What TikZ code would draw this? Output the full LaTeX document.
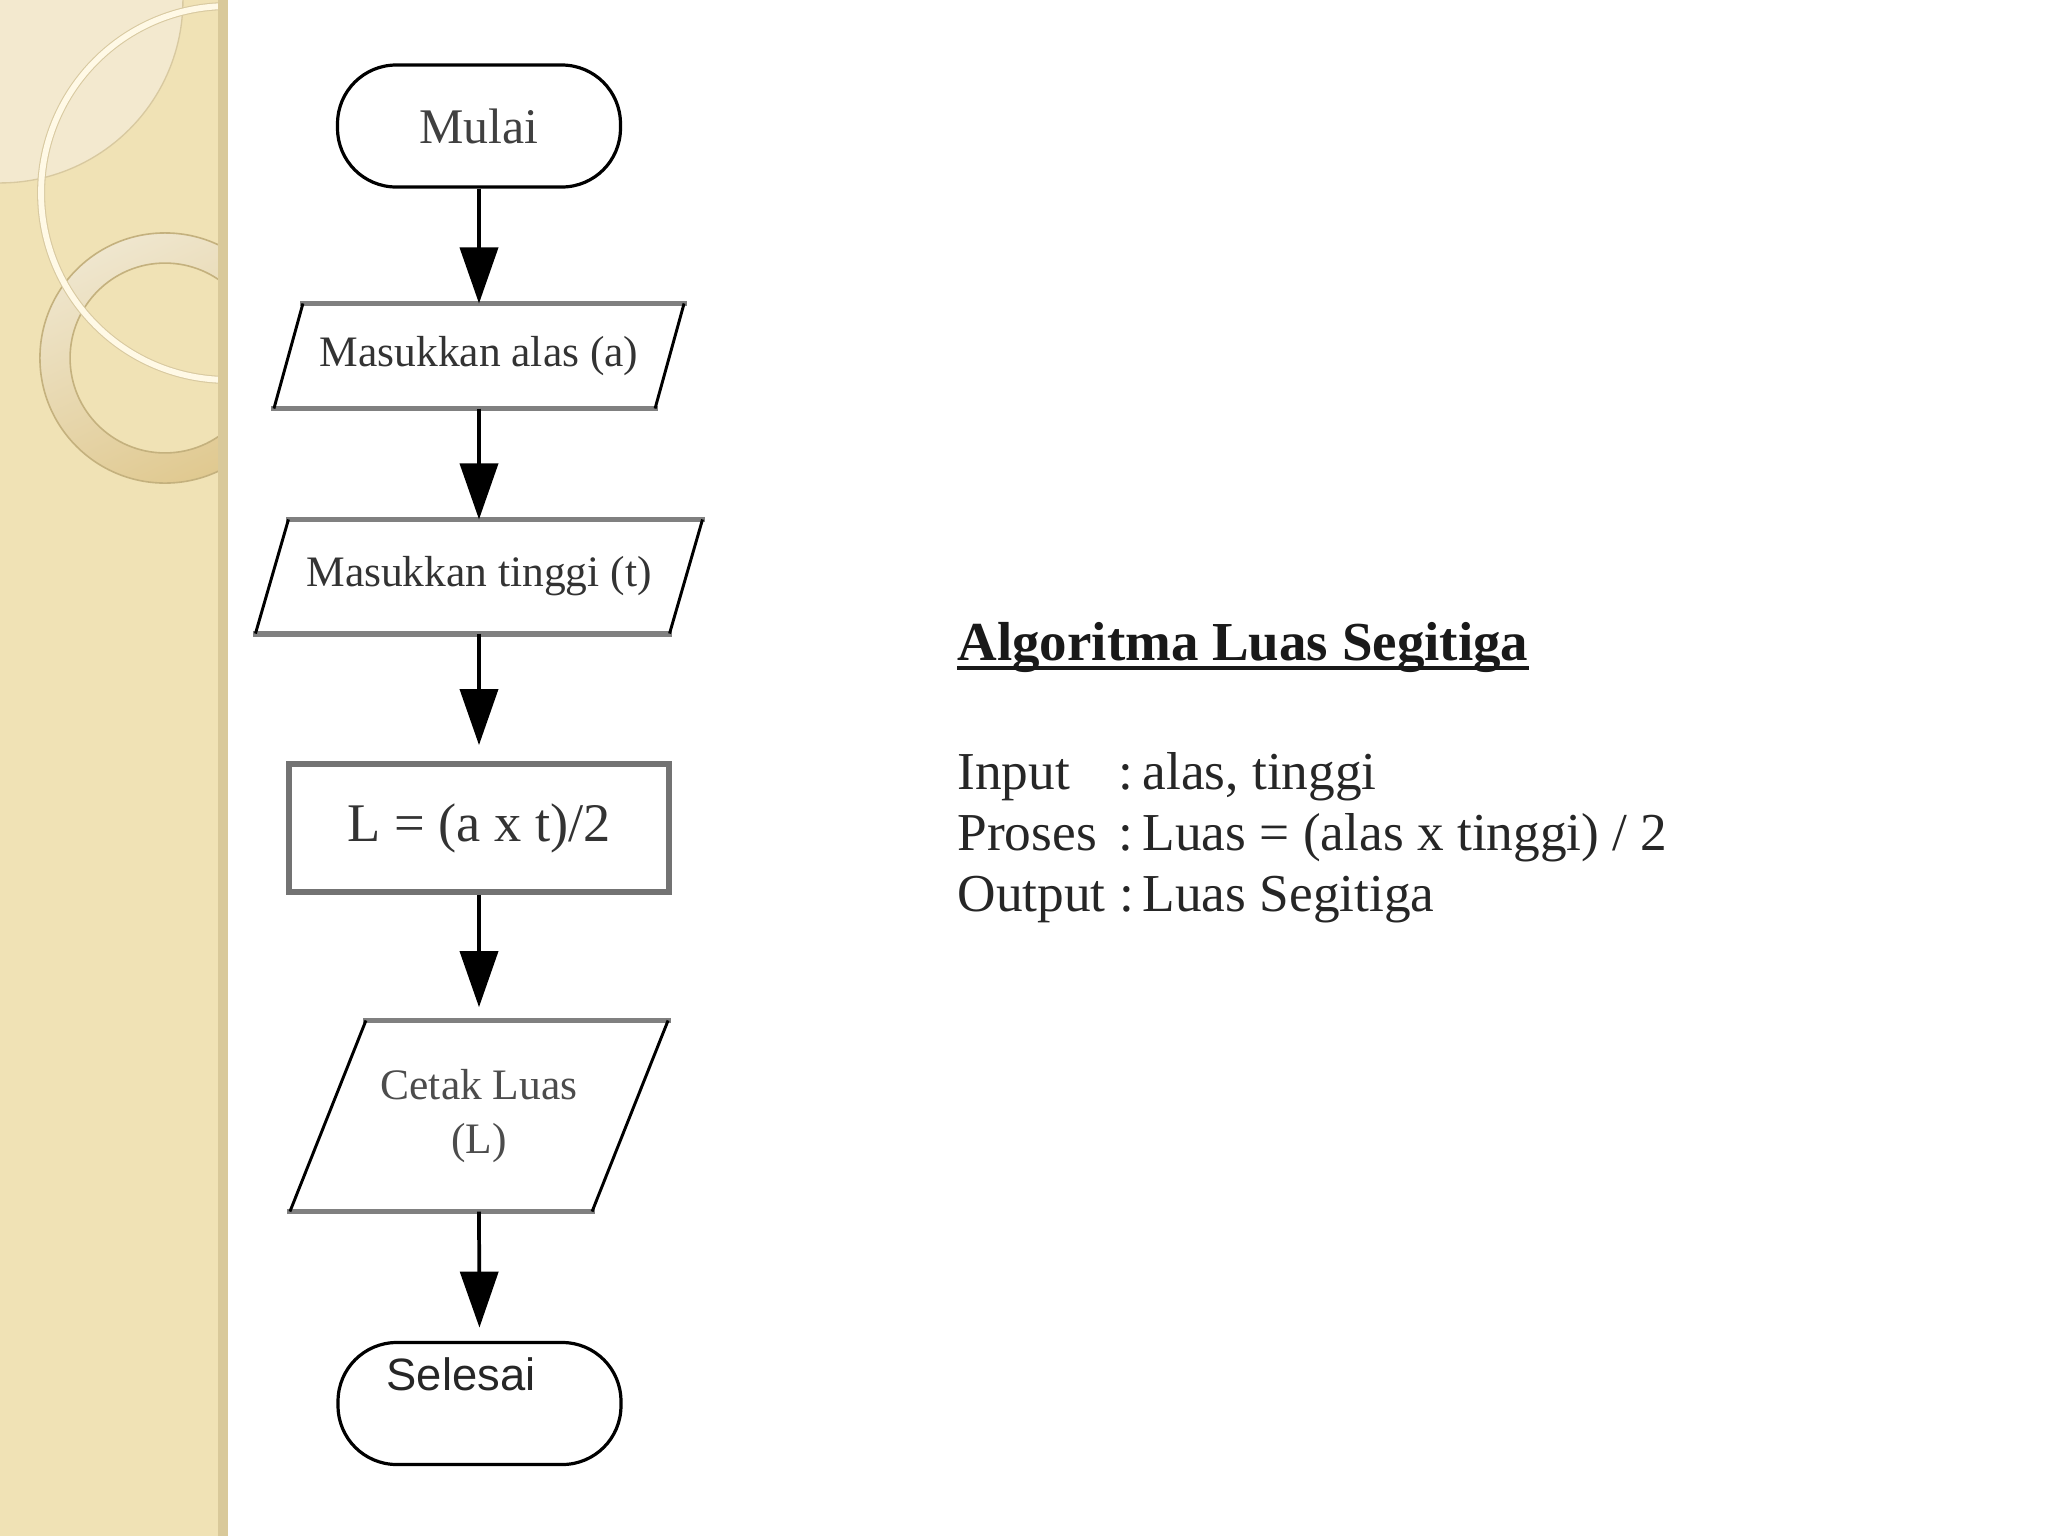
\documentclass[tikz,border=0pt]{standalone}
\usepackage{fontspec}
\setmainfont{Liberation Serif}
\newfontfamily\sansf{Liberation Sans}
\usetikzlibrary{arrows.meta,calc}
\definecolor{strip}{HTML}{F0E2B5}
\definecolor{stripLight}{HTML}{F3E9CF}
\definecolor{stripLine}{HTML}{D8C9A0}
\definecolor{ringA}{HTML}{EFE6CE}
\definecolor{ringB}{HTML}{E0C990}
\definecolor{ringLine}{HTML}{C4B17E}
\definecolor{band}{HTML}{D9C99A}
\definecolor{arcCol}{HTML}{FFF9E6}
\newcommand\drawpara[2]{%
  \draw[edgegray] ($(#1.north west)+(#2,0)$) -- (#1.north east);
  \draw[edgegray] (#1.south west) -- ($(#1.south east)+(-#2,0)$);
  \draw[edgeblack] (#1.south west) -- ($(#1.north west)+(#2,0)$);
  \draw[edgeblack] (#1.north east) -- ($(#1.south east)+(-#2,0)$);}
\begin{document}
\begin{tikzpicture}[x=0.375pt,y=-0.375pt,
  term/.style={draw=black, line width=1.2pt, rectangle, rounded corners=22pt,
    minimum width=106.1pt, minimum height=45.75pt, inner sep=0pt,
    font=\fontsize{18.7}{22}\selectfont, text=black!75},
  iobox/.style={inner sep=0pt, align=center, text=black!80},
  procbox/.style={draw=black!55, line width=2.2pt, minimum width=142.5pt,
    minimum height=48pt, inner sep=0pt, text=black!80,
    font=\fontsize{20.4}{24}\selectfont},
  edgegray/.style={draw=black!50, line width=2.2pt, line cap=rect},
  edgeblack/.style={draw=black, line width=1.1pt},
  flow/.style={draw=black, line width=1.4pt, -{Triangle[length=21pt,width=14.25pt]}},
]
\useasboundingbox (0,0) rectangle (2048,1536);
\fill[white] (0,0) rectangle (2048,1536);
% left decorative strip
\fill[strip] (0,0) rectangle (220,1536);
\begin{scope}
  \clip (0,0) rectangle (220,1536);
  \filldraw[fill=stripLight, draw=stripLine, line width=0.5pt] (0,0) circle[radius=68.6pt];
  \shade[even odd rule, top color=ringA, bottom color=ringB, shading angle=25]
    (165,358) circle[radius=46.9pt] (165,358) circle[radius=35.6pt];
  \draw[ringLine, line width=0.6pt] (165,358) circle[radius=46.9pt];
  \draw[ringLine, line width=0.6pt] (165,358) circle[radius=35.6pt];
  \draw[stripLine, line width=3.0pt] (228,193) circle[radius=70.1pt];
  \draw[arcCol, line width=2.2pt] (228,193) circle[radius=70.1pt];
\end{scope}
\fill[band] (218,0) rectangle (228,1536);

% flowchart nodes
\node[term] (start) at (479,126) {Mulai};
\node[iobox, minimum width=153.4pt, minimum height=39pt,
  font=\fontsize{16.3}{19}\selectfont] (in1) at (479,356) {Masukkan alas (a)};
\drawpara{in1}{29}
\node[iobox, minimum width=167.25pt, minimum height=42.4pt,
  font=\fontsize{16.3}{19}\selectfont] (in2) at (479,576.5) {Masukkan tinggi (t)};
\drawpara{in2}{33}
\node[procbox] (proc) at (479,828) {L = (a x t)/2};
\node[iobox, minimum width=141.4pt, minimum height=71.25pt,
  font=\fontsize{16.3}{20.6}\selectfont, text=black!70] (out) at (479,1116) {Cetak Luas\\(L)};
\drawpara{out}{76}
\node[term] (stop) at (479.5,1403.5) {};
\node[font=\sansf\fontsize{17}{20}\selectfont, text=black!85, inner sep=0pt] (stoptext) at (461,1374) {Selesai};

% connectors
\draw[flow] (start.south) -- (in1.north);
\draw[flow] (in1.south) -- (in2.north);
\draw[flow, shorten >=6pt] (in2.south) -- (proc.north);
\draw[flow, shorten >=5pt] (proc.south) -- (out.north);
\draw[flow, shorten >=5pt] (out.south) -- (stop.north);

% algorithm text
\node[anchor=base west, inner sep=0pt, font=\bfseries\fontsize{20.6}{24}\selectfont,
  text=black!90] (title) at (957,660) {Algoritma Luas Segitiga};
\draw[black!90, line width=1.4pt] ($(title.base west)+(0,8)$) -- ($(title.base east)+(0,8)$);
\node[anchor=base west, inner sep=0pt, font=\fontsize{20}{22.9}\selectfont,
  text=black!85] (algo) at (957,789) {\begin{tabular}[t]{@{}l@{\ }l@{}}
  Input & :\,alas, tinggi\\
  Proses & :\,Luas = (alas x tinggi) / 2\\
  Output & :\,Luas Segitiga
  \end{tabular}};
\end{tikzpicture}
\end{document}
